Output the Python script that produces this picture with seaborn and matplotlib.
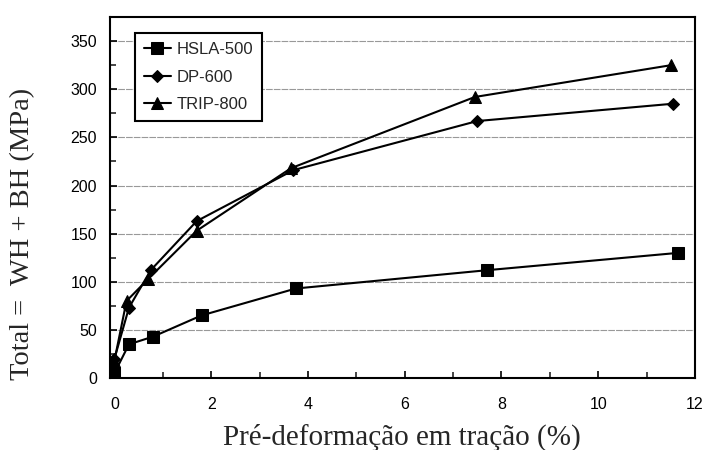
import numpy as np
import pandas as pd
import matplotlib
matplotlib.use('Agg')
import matplotlib.pyplot as plt
import seaborn as sns
from matplotlib.ticker import MultipleLocator

# valores
hsla_x = [0.0, 0.3, 0.8, 1.8, 3.75, 7.7, 11.65]
hsla_y = [5, 35, 43, 65, 93, 112, 130]
dp_x = [0.0, 0.3, 0.75, 1.7, 3.7, 7.5, 11.55]
dp_y = [20, 73, 112, 163, 216, 267, 285]
trip_x = [0.0, 0.25, 0.7, 1.7, 3.65, 7.45, 11.5]
trip_y = [18, 80, 103, 153, 218, 292, 325]

df = pd.concat([
    pd.DataFrame({'x': hsla_x, 'y': hsla_y, 'aco': 'HSLA-500'}),
    pd.DataFrame({'x': dp_x, 'y': dp_y, 'aco': 'DP-600'}),
    pd.DataFrame({'x': trip_x, 'y': trip_y, 'aco': 'TRIP-800'}),
])

sns.set_theme(style='white')
plt.rcParams['font.family'] = ['Liberation Sans', 'DejaVu Sans']

fig, ax = plt.subplots(figsize=(7.07, 4.5), dpi=100)
fig.subplots_adjust(left=0.155, right=0.983, top=0.962, bottom=0.16)

sns.lineplot(data=df, x='x', y='y', hue='aco', style='aco',
             markers={'HSLA-500': 's', 'DP-600': 'D', 'TRIP-800': '^'},
             dashes=False, palette=['black'] * 3, markersize=8,
             linewidth=1.5, sort=False, ax=ax, markeredgecolor='black')
for l in ax.lines:
    if l.get_marker() == 'D':
        l.set_markersize(6.5)

ax.set_xlim(-0.1, 12)
ax.set_ylim(0, 375)
ax.xaxis.set_major_locator(MultipleLocator(2))
ax.xaxis.set_minor_locator(MultipleLocator(1))
ax.yaxis.set_major_locator(MultipleLocator(50))
ax.yaxis.set_minor_locator(MultipleLocator(25))
ax.set_yticks(np.arange(0, 351, 50))
ax.yaxis.grid(True, which='major', color='#999999', linewidth=0.8, linestyle=(0, (6, 1)))
ax.set_axisbelow(True)
ax.tick_params(which='major', direction='in', length=5, width=1.2, labelsize=11.5, colors='black')
ax.tick_params(axis='x', which='major', pad=14)
ax.tick_params(axis='y', which='major', pad=9)
ax.tick_params(which='minor', direction='in', length=4, width=1.2)
ax.tick_params(axis='x', which='both', bottom=True)
ax.tick_params(axis='y', which='both', left=True)
for s in ax.spines.values():
    s.set_color('black')
    s.set_linewidth(1.5)

ax.set_xlabel('Pré-deformação em tração (%)', fontfamily='Liberation Serif', fontsize=21, labelpad=8)
ax.set_ylabel('Total =  WH + BH (MPa)', fontfamily='Liberation Serif', fontsize=20.5)
ax.yaxis.set_label_coords(-0.127, 0.40)

leg = ax.legend(title=None, loc='upper left', bbox_to_anchor=(0.043, 0.956),
                fontsize=12, frameon=True, fancybox=False, edgecolor='black',
                handlelength=1.6, handletextpad=0.35, borderpad=0.55, labelspacing=0.75,
                borderaxespad=0)
leg.get_frame().set_linewidth(1.5)
leg.get_frame().set_alpha(1)

fig.savefig('out.png', dpi=100)
